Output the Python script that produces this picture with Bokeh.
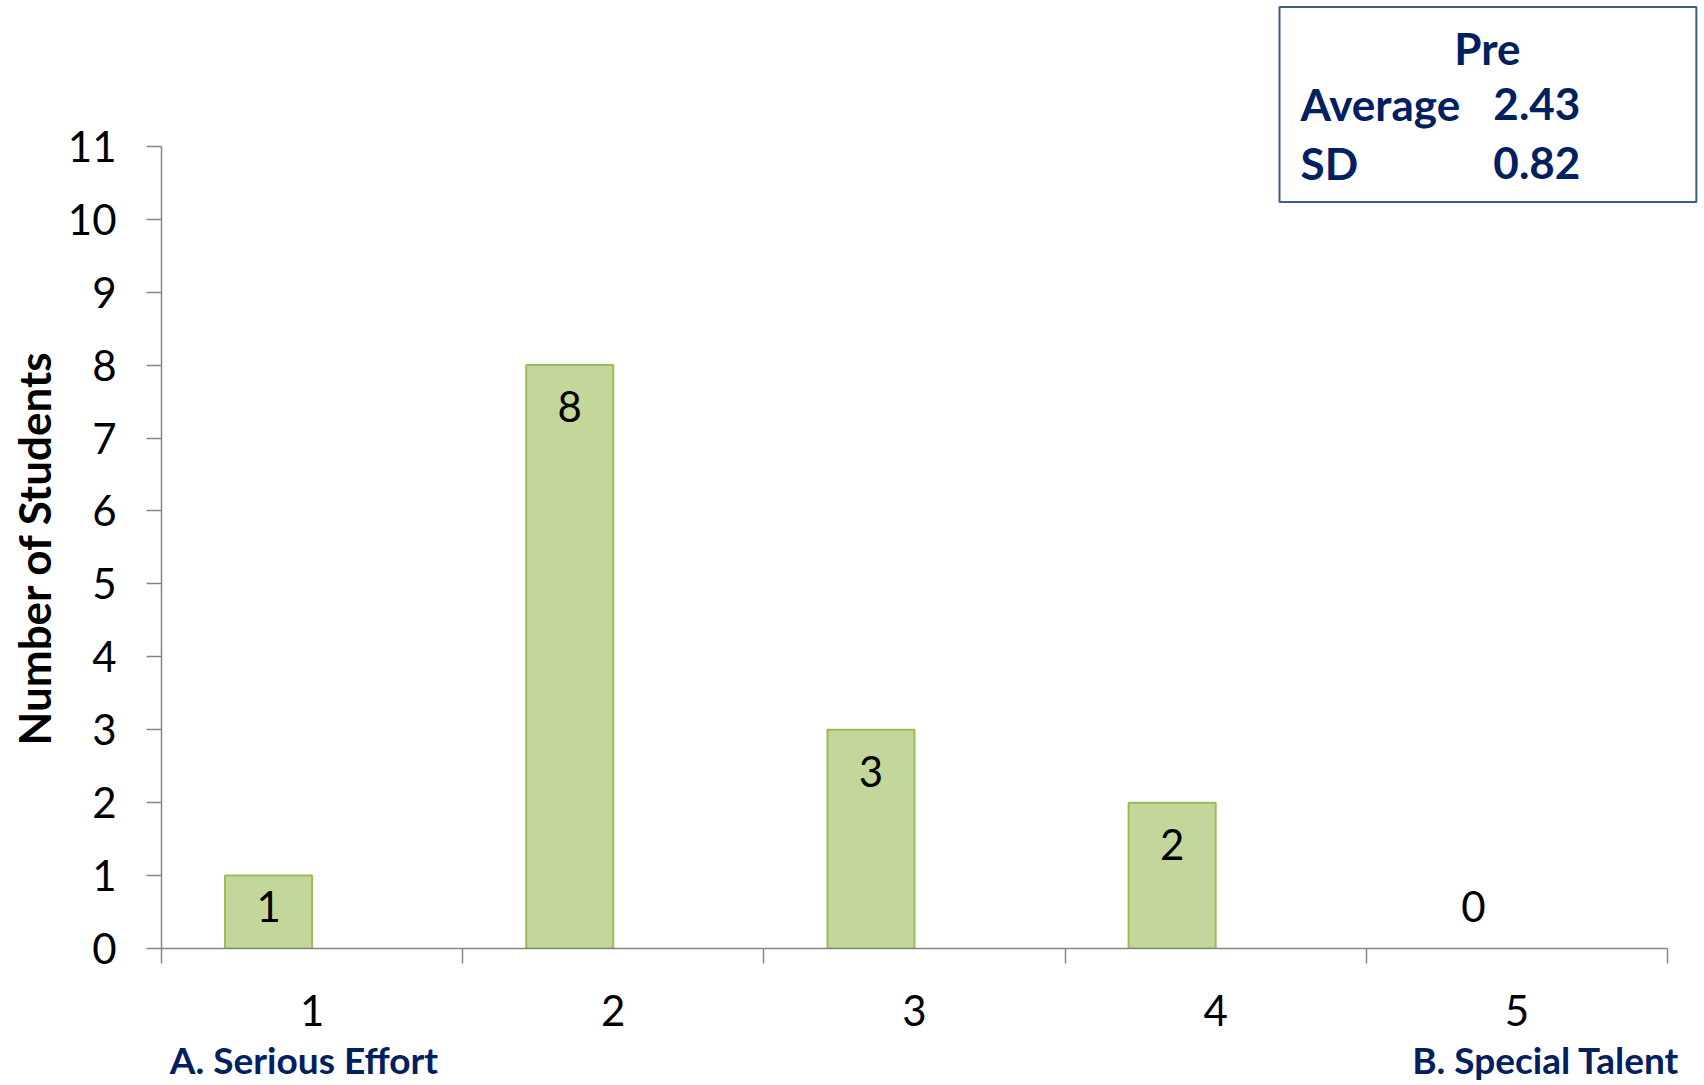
from bokeh.plotting import figure
from bokeh.models import Range1d, FixedTicker, Label, BoxAnnotation, LinearAxis, Title
from bokeh.core.properties import value
from bokeh.embed import file_html
from bokeh.resources import INLINE

# Responses on the 1-5 scale (1 = serious effort, 5 = special talent)
categories = [1, 2, 3, 4, 5]
students = [1, 8, 3, 2, 0]
tick_labels = ["1", "2", "3", "4", "5"]
y_ticks = list(range(0, 12))
scale_ends = ["A. Serious Effort", "B.  Special Talent"]

stats_header = "Pre"
stats_names = ["Average", "SD"]
stats_values = ["2.43", "0.82"]

FONT = "Lato"
NAVY = "#002060"
AXIS_GREY = "#868686"

# Clustered-column geometry: two series slots per category, only "Pre" drawn
n_series = 2
gap_width = 1.46
bar_w = 1.0 / (n_series + gap_width)

p = figure(
    width=1704, height=1085,
    output_backend="svg", toolbar_location=None,
    x_range=Range1d(0.5, 5.623), y_range=Range1d(0, 13.0),
    min_border_left=161, min_border_right=0,
    min_border_top=0, min_border_bottom=137,
)
p.outline_line_color = None
p.xgrid.visible = False
p.ygrid.visible = False
p.background_fill_color = "white"
p.border_fill_color = "white"

# Bars sit in the left slot of each category; empty categories get no outline
bar_x = [c - bar_w / 2 for c in categories]
p.vbar(x=bar_x, top=students, bottom=0, width=bar_w,
       fill_color="#c4d79b", line_color="#9bbb59", line_width=2,
       line_alpha=[1.0 if v > 0 else 0.0 for v in students])

# Value labels: near the top inside the bar, centred when the bar is short
label_y = [max(v - 0.57, 0.58) for v in students]
p.text(x=bar_x, y=label_y, text=[str(v) for v in students],
       text_align="center", text_baseline="middle",
       text_font=value(FONT), text_font_size="42px", text_color="black")

# Y axis
p.yaxis.ticker = FixedTicker(ticks=y_ticks)
p.yaxis.bounds = (0, 11)
p.yaxis.axis_line_color = AXIS_GREY
p.yaxis.axis_line_width = 1.5
p.yaxis.major_tick_line_color = AXIS_GREY
p.yaxis.major_tick_line_width = 1.5
p.yaxis.major_tick_out = 15
p.yaxis.major_tick_in = 0
p.yaxis.minor_tick_line_color = None
p.yaxis.major_label_standoff = 30
p.yaxis.major_label_text_font = FONT
p.yaxis.major_label_text_font_size = "42px"
p.yaxis.major_label_text_color = "black"

# Y axis title, centred on the 0-11 span of the axis
p.add_layout(Title(text="Number of Students", align="left", offset=203,
                   standoff=10, text_font=FONT, text_font_style="bold",
                   text_font_size="44px", text_color="black"), "left")

# X axis: labels at category centres, tick marks on category boundaries
boundaries = [c - 0.5 for c in categories] + [categories[-1] + 0.5]
p.xaxis.ticker = FixedTicker(ticks=categories, minor_ticks=boundaries)
p.xaxis.major_label_overrides = {c: t for c, t in zip(categories, tick_labels)}
p.xaxis.bounds = (boundaries[0], boundaries[-1])
p.xaxis.axis_line_color = AXIS_GREY
p.xaxis.axis_line_width = 1.5
p.xaxis.major_tick_line_color = None
p.xaxis.major_tick_out = 15
p.xaxis.major_tick_in = 0
p.xaxis.minor_tick_line_color = AXIS_GREY
p.xaxis.minor_tick_line_width = 1.5
p.xaxis.minor_tick_out = 15
p.xaxis.minor_tick_in = 0
p.xaxis.major_label_standoff = 31
p.xaxis.major_label_text_font = FONT
p.xaxis.major_label_text_font_size = "42px"
p.xaxis.major_label_text_color = "black"

# Scale end descriptions under the first and last categories
end_pos = [boundaries[0] + 0.473, boundaries[-1] - 0.389]
ends_axis = LinearAxis(
    ticker=FixedTicker(ticks=end_pos, minor_ticks=[]),
    major_label_overrides={pos: txt for pos, txt in zip(end_pos, scale_ends)},
    axis_line_color=None, major_tick_line_color=None, minor_tick_line_color=None,
    major_tick_out=0, major_tick_in=0, minor_tick_out=0, minor_tick_in=0,
    major_label_standoff=8,
    major_label_text_font=FONT, major_label_text_font_style="bold",
    major_label_text_font_size="37px", major_label_text_color=NAVY,
)
p.add_layout(ends_axis, "below")

# Summary box in the upper right
p.add_layout(BoxAnnotation(left=4.212, right=5.596, top=12.91, bottom=10.236,
                           fill_color="white", fill_alpha=1.0,
                           line_color="#385d8a", line_alpha=1.0, line_width=2))
p.add_layout(Label(x=4.902, y=12.35, text=stats_header,
                   text_align="center", text_baseline="alphabetic",
                   text_font=FONT, text_font_style="bold",
                   text_font_size="44px", text_color=NAVY))
for i, (name, val) in enumerate(zip(stats_names, stats_values)):
    yb = 11.58 - i * 0.81
    p.add_layout(Label(x=4.282, y=yb, text=name,
                       text_align="left", text_baseline="alphabetic",
                       text_font=FONT, text_font_style="bold",
                       text_font_size="44px", text_color=NAVY))
    p.add_layout(Label(x=4.922, y=yb, text=val,
                       text_align="left", text_baseline="alphabetic",
                       text_font=FONT, text_font_style="bold",
                       text_font_size="44px", text_color=NAVY))

open("out.html", "w").write(file_html(p, INLINE))
